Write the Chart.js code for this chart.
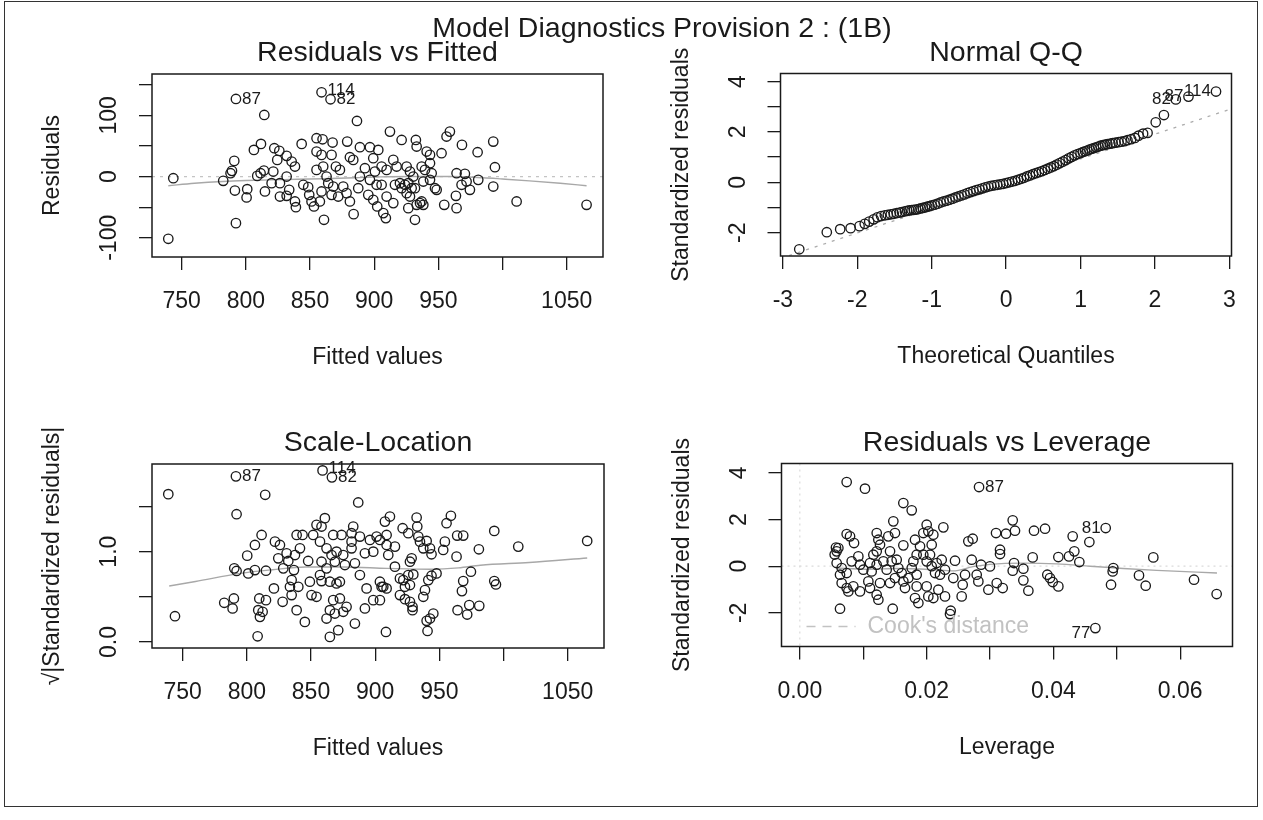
<!DOCTYPE html>
<html>
<head>
<meta charset="utf-8">
<title>Model Diagnostics Provision 2 : (1B)</title>
<script src="https://cdn.jsdelivr.net/npm/chart.js@4.4.1/dist/chart.umd.min.js"></script>
<style>
  body { margin: 0; background: #fff; }
  #wrap { position: relative; width: 1263px; height: 820px; overflow: hidden; }
  #wrap canvas { position: absolute; left: 0; top: 0; }
  #frame { position: absolute; left: 4px; top: 1px; width: 1252px; height: 804px; border: 1.5px solid #333; }
</style>
</head>
<body>
<div id="wrap">
  <div id="frame"></div>
  <canvas id="c1" width="1263" height="820"></canvas>
  <canvas id="c2" width="1263" height="820"></canvas>
  <canvas id="c3" width="1263" height="820"></canvas>
  <canvas id="c4" width="1263" height="820"></canvas>
</div>
<script>
const W = 1263, H = 820, TICK = 13;
const INK = '#1a1a1a';
const FONT = '"Liberation Sans", Arial, sans-serif';

const mainTitle = 'Model Diagnostics Provision 2 : (1B)';

// Residuals vs Fitted: [fitted, residual]
const p1Points = [
  [739.6,-101.6],[743.5,-2.7],[792.3,126.7],[814.4,100.6],[859.0,137.6],[866.0,126.2],[886.6,90.8],[792.3,-76.1],[860.9,-70.6],[884.0,-61.4],
  [782.4,-7.0],[791.0,25.6],[788.1,5.5],[789.2,9.3],[791.5,-22.8],[800.6,-34.2],[801.1,-20.6],[806.3,43.5],[811.8,53.3],[808.9,1.1],
  [811.5,5.5],[814.1,9.8],[814.9,-24.4],[822.2,46.3],[826.1,41.9],[824.5,27.2],[831.8,33.8],[835.7,24.5],[838.3,16.4],[843.5,53.3],
  [821.4,8.2],[820.1,-10.8],[826.6,-10.8],[831.8,0.0],[826.6,-32.6],[831.8,-31.5],[833.8,-21.7],[838.3,-40.7],[839.0,-50.0],[844.8,-13.5],
  [848.6,-17.3],[849.4,-29.9],[851.2,-40.7],[853.1,-48.9],[855.1,62.6],[859.8,60.9],[867.6,55.5],[855.1,40.8],[859.0,35.4],[866.8,35.4],
  [855.1,10.9],[860.3,16.4],[862.9,0.0],[864.2,-10.8],[868.1,-16.3],[866.8,-29.9],[857.7,-40.7],[870.2,16.4],[873.3,10.9],[875.9,-16.3],
  [878.5,-27.1],[881.1,-40.7],[859.0,-24.4],[872.0,-32.6],[879.0,57.1],[881.1,31.6],[883.7,27.2],[888.9,47.9],[892.8,13.6],[896.7,47.9],
  [899.3,30.0],[903.2,43.5],[900.6,8.2],[901.9,-13.5],[905.8,-13.5],[887.6,-19.0],[895.4,-29.9],[899.3,-38.0],[902.4,-48.9],[907.1,-59.7],
  [909.1,-67.9],[888.9,0.0],[896.7,-5.4],
  [912.3,73.4],[921.4,59.8],[932.5,59.8],[933.1,49.0],[940.9,40.8],[943.5,35.4],[952.5,38.1],[956.4,65.3],[959.0,73.4],[968.4,51.7],
  [980.6,39.7],[992.8,57.1],[994.1,15.3],[992.8,-16.3],[964.2,5.5],[970.7,4.4],[972.0,-8.1],[968.1,-13.5],[974.6,-21.7],[981.1,-5.4],
  [963.7,-31.5],[954.6,-46.2],[964.2,-51.6],[1011.0,-40.7],[1065.5,-46.2],[905.8,16.4],[909.7,10.9],[914.9,27.2],[917.5,16.4],[916.2,-13.5],
  [914.9,-43.4],[925.3,16.4],[927.9,8.2],[930.5,0.0],[937.0,16.4],[939.6,10.9],[943.5,21.8],[944.8,5.5],[920.1,-10.8],[921.4,-19.0],
  [924.0,-13.5],[926.6,-10.8],[929.2,-19.0],[925.3,-27.1],[927.9,-32.6],[931.8,-19.0],[938.3,-8.1],[943.5,-5.4],[947.4,-19.0],[948.7,-21.7],
  [935.7,-43.4],[937.0,-40.7],[933.1,-46.2],[926.6,-51.6],[931.8,-70.6],[938.3,-46.2],[909.7,-32.6]
];
const p1Smooth = [[739.6,-15],[760,-11],[782,-8],[800,-6.5],[830,-5],[860,-3.5],[885,-2],[905,-0.5],[930,0],[960,0],[985,-2],[1000,-4],[1021,-7],[1045,-11],[1065.5,-15]];
const p1Ids = [['87',792.3,126.7],['114',859.0,137.6],['82',866.0,126.2]];
const p1XTicks = [750,800,850,900,950,1000,1050];
const p1XLabels = ['750','800','850','900','950','','1050'];
const p1YTicks = [-100,-50,0,50,100,150];
const p1YLabels = ['-100','','0','','100',''];

// Normal Q-Q: [theoretical quantile, standardized residual]
const p2Points = [
  [-2.78,-2.66],[-2.41,-1.98],[-2.23,-1.86],[-2.09,-1.82],[-1.97,-1.74],[-1.90,-1.65],[-1.84,-1.56],[-1.78,-1.47],[-1.73,-1.39],[-1.68,-1.34],
  [-1.63,-1.31],[-1.59,-1.29],[-1.55,-1.27],[-1.51,-1.25],[-1.47,-1.22],[-1.43,-1.20],[-1.40,-1.18],[-1.36,-1.15],[-1.33,-1.13],[-1.30,-1.11],
  [-1.27,-1.10],[-1.24,-1.09],[-1.21,-1.08],[-1.18,-1.06],[-1.15,-1.04],[-1.12,-1.02],[-1.09,-1.00],[-1.06,-0.97],[-1.03,-0.95],[-1.00,-0.92],
  [-0.96,-0.89],[-0.92,-0.85],[-0.88,-0.80],[-0.84,-0.76],[-0.80,-0.73],[-0.76,-0.69],[-0.72,-0.65],[-0.68,-0.60],[-0.64,-0.56],[-0.60,-0.52],
  [-0.56,-0.48],[-0.52,-0.43],[-0.48,-0.39],[-0.44,-0.35],[-0.40,-0.31],[-0.36,-0.28],[-0.32,-0.24],[-0.28,-0.20],[-0.24,-0.17],[-0.20,-0.14],
  [-0.16,-0.12],[-0.12,-0.10],[-0.08,-0.08],[-0.04,-0.06],[0.00,-0.03],[0.04,0.00],[0.08,0.03],[0.12,0.06],[0.16,0.10],[0.20,0.14],
  [0.24,0.18],[0.28,0.23],[0.32,0.27],[0.36,0.32],[0.40,0.36],[0.44,0.40],[0.48,0.44],[0.52,0.49],[0.56,0.54],[0.60,0.59],
  [0.64,0.64],[0.68,0.70],[0.72,0.76],[0.76,0.82],[0.80,0.88],[0.84,0.95],[0.88,1.01],[0.92,1.07],[0.96,1.12],[1.00,1.16],
  [1.03,1.20],[1.06,1.23],[1.09,1.26],[1.12,1.30],[1.15,1.33],[1.18,1.36],[1.21,1.39],[1.24,1.42],[1.27,1.45],[1.30,1.47],
  [1.33,1.49],[1.36,1.51],[1.40,1.53],[1.43,1.55],[1.47,1.57],[1.51,1.59],[1.55,1.61],[1.59,1.63],[1.63,1.67],[1.68,1.71],
  [1.73,1.76],[1.78,1.85],[1.84,1.93],[1.90,1.96],[2.01,2.38],[2.12,2.67],[2.28,3.29],[2.45,3.40],[2.82,3.60]
];
const p2QQLine = { a: -0.05, b: 0.98 };
const p2Ids = [['82',2.28,3.29],['87',2.45,3.40],['114',2.82,3.60]];
const p2XTicks = [-3,-2,-1,0,1,2,3];
const p2XLabels = ['-3','-2','-1','0','1','2','3'];
const p2YTicks = [-2,-1,0,1,2,3,4];
const p2YLabels = ['-2','','0','','2','','4'];

// Scale-Location: [fitted, sqrt(|standardized residual|)]
const p3Points = [
  [738.8,1.637],[744.0,0.285],[791.5,1.834],[814.3,1.630],[859.0,1.900],[866.3,1.823],[886.8,1.545],[792.0,1.415],[811.5,1.185],[806.3,1.074],
  [800.3,0.956],[790.2,0.815],[792.0,0.786],[801.1,0.759],[806.3,0.796],[814.9,0.789],[821.1,0.593],[814.9,0.463],[809.7,0.482],[808.9,0.352],
  [812.3,0.334],[810.2,0.278],[808.4,0.063],[782.4,0.434],[789.9,0.482],[788.9,0.371],[821.9,1.111],[825.8,1.074],[824.5,0.926],[831.0,0.982],
  [832.3,0.897],[828.4,0.815],[838.8,1.185],[843.4,1.185],[841.4,1.037],[837.5,0.963],[836.7,0.796],[834.9,0.685],[833.6,0.611],[840.1,0.611],
  [827.9,0.445],[834.9,0.519],[838.8,0.352],[845.2,0.222],[847.8,0.897],[851.7,1.185],[854.3,1.297],[858.2,1.278],[860.8,1.371],[857.0,1.111],
  [862.1,1.037],[866.0,0.963],[858.2,0.889],[862.1,0.815],[857.0,0.741],[849.1,0.667],[850.4,0.519],[854.3,0.500],[858.2,0.674],[864.7,0.667],
  [869.9,0.648],[872.5,0.667],[867.3,1.185],[873.8,1.185],[869.9,1.000],[875.1,0.963],[868.6,0.889],[876.4,0.852],[867.3,0.463],[872.5,0.482],
  [877.7,0.389],[864.7,0.352],[862.1,0.259],[868.6,0.315],[875.1,0.334],[884.2,0.204],[864.7,0.056],[871.2,0.130],[882.9,1.278],[881.6,1.204],
  [888.1,1.167],[881.6,1.111],[881.6,1.037],[884.2,0.871],[888.1,0.741],[892.0,0.982],[895.9,1.130],[898.5,1.000],[901.1,1.167],[903.7,1.130],
  [908.9,1.185],[893.3,0.593],[898.5,0.463],[903.7,0.667],[905.0,0.611],[903.7,0.463],[908.4,0.111],[892.0,0.371],
  [911.5,1.389],[907.6,1.333],[908.9,1.074],[915.4,1.056],[910.2,0.963],[921.4,1.260],[925.8,1.204],[932.3,1.378],[932.8,1.278],[933.6,1.167],
  [934.9,1.111],[940.1,1.119],[942.7,1.037],[943.9,0.971],[937.5,1.037],[955.6,1.315],[959.0,1.397],[954.3,1.111],[953.0,1.019],[963.9,1.178],
  [968.6,1.178],[963.4,0.945],[980.8,1.026],[992.8,1.230],[1011.5,1.056],[1065.2,1.119],[974.6,0.778],[968.6,0.674],[967.6,0.563],[992.8,0.674],
  [994.1,0.637],[964.2,0.352],[971.7,0.304],[973.3,0.408],[981.1,0.400],[915.4,0.834],[927.1,0.889],[928.4,0.926],[919.3,0.704],[921.9,0.685],
  [925.8,0.741],[929.7,0.748],[927.1,0.630],[923.2,0.611],[906.3,0.611],[908.9,0.593],[919.3,0.519],[923.2,0.474],[927.1,0.445],[929.1,0.389],
  [929.1,0.352],[937.5,0.500],[938.8,0.574],[941.4,0.685],[943.9,0.734],[947.8,0.759],[945.3,0.315],[942.7,0.259],[940.1,0.234],[940.8,0.122]
];
const p3Smooth = [[739.5,0.62],[760,0.67],[795,0.76],[820,0.80],[846,0.83],[875,0.83],[909,0.815],[943,0.805],[965,0.82],[982,0.85],[1020,0.88],[1065.2,0.93]];
const p3Ids = [['87',791.5,1.834],['114',859.0,1.900],['82',866.3,1.823]];
const p3XTicks = p1XTicks;
const p3XLabels = p1XLabels;
const p3YTicks = [0,0.5,1,1.5];
const p3YLabels = ['0.0','','1.0',''];

// Residuals vs Leverage: [leverage, standardized residual]
const p4Points = [
  [0.00739,3.607],[0.01028,3.322],[0.02827,3.393],[0.01633,2.707],[0.01765,2.393],[0.00634,-1.822],[0.01465,-1.822],[0.02380,-1.908],[0.02369,-2.051],[0.01475,1.921],
  [0.01501,1.421],[0.02264,1.664],[0.02001,1.779],[0.02027,1.493],[0.02106,1.350],[0.01948,1.421],[0.01817,1.136],[0.02080,0.921],[0.01896,0.850],[0.00739,1.378],
  [0.00792,1.278],[0.00855,0.993],[0.00608,0.779],[0.00581,0.636],[0.01213,1.421],[0.01239,1.136],[0.01265,0.921],[0.01213,0.636],[0.01396,1.278],[0.01633,0.893],
  [0.01160,0.493],[0.00581,0.136],[0.00660,-0.079],[0.00634,-0.365],[0.00739,-0.293],[0.00818,0.207],[0.00923,0.421],[0.00949,0.064],[0.01002,-0.150],[0.01107,0.136],
  [0.01133,-0.222],[0.01212,0.064],[0.01318,0.207],[0.01370,-0.150],[0.01449,0.207],[0.01528,0.279],[0.01423,0.636],[0.01554,-0.079],[0.00660,-0.722],[0.00739,-0.936],
  [0.00765,-1.079],[0.00844,-0.865],[0.00949,-1.079],[0.01081,-0.651],[0.01107,-0.936],[0.01212,-1.222],[0.01239,-1.436],[0.01265,-0.722],[0.01423,-0.722],[0.01501,-0.508],
  [0.01607,-0.293],[0.01633,-0.651],[0.01659,-0.936],[0.01765,-0.079],[0.01791,0.207],[0.01843,0.493],[0.01948,0.493],[0.02001,0.207],[0.02054,0.493],[0.02080,0.000],
  [0.02159,0.136],[0.02238,0.279],[0.02133,-0.293],[0.02211,-0.365],[0.02290,-0.150],[0.01843,-0.365],[0.01712,-0.508],[0.01843,-0.865],[0.01817,-1.365],[0.01870,-1.579],
  [0.02001,-0.865],[0.02027,-1.293],[0.02106,-1.365],[0.02185,-1.008],[0.02290,-1.293],[0.02421,-0.508],[0.02448,0.236],[0.02569,-0.793],[0.02553,-1.293],[0.02606,-0.365],
  [0.02658,1.064],[0.02727,1.179],[0.02711,0.279],[0.02790,-0.365],[0.02816,-0.651],[0.02974,-1.008],[0.03106,-0.722],[0.03200,-0.936],[0.02859,0.064],[0.02999,-0.008],
  [0.03095,1.421],[0.03252,1.393],[0.03158,0.707],[0.03158,0.521],[0.00570,0.800],[0.00550,0.500],
  [0.03358,1.964],[0.03394,1.521],[0.03379,0.135],[0.03358,-0.193],[0.03526,-0.107],[0.03526,-0.607],[0.03605,-1.050],[0.03673,0.378],[0.03694,1.521],[0.03868,1.607],
  [0.03904,-0.365],[0.03946,-0.508],[0.03989,-0.679],[0.04078,-0.865],[0.04078,0.393],[0.04246,0.421],[0.04304,1.279],[0.04330,0.636],[0.04409,0.179],[0.04567,1.036],
  [0.04825,1.636],[0.04945,-0.079],[0.04935,-0.222],[0.04909,-0.793],[0.04662,-2.651],[0.05350,-0.393],[0.05456,-0.836],[0.05576,0.378],[0.06218,-0.579],[0.06575,-1.193]
];
const p4Smooth = [[0.0058,-0.08],[0.0105,-0.13],[0.0153,-0.10],[0.0205,-0.14],[0.0242,-0.20],[0.0273,-0.02],[0.030,0.08],[0.0353,0.13],[0.0405,0.10],[0.0458,0.0],[0.051,-0.10],[0.0563,-0.18],[0.0658,-0.29]];
const p4Ids = [['87',0.02827,3.393],['81',0.04825,1.636],['77',0.04662,-2.651]];
const p4XTicks = [0,0.01,0.02,0.03,0.04,0.05,0.06];
const p4XLabels = ['0.00','','0.02','','0.04','','0.06'];
const p4YTicks = [-2,0,2,4];
const p4YLabels = ['-2','0','2','4'];

function axis(range, ticks, dir) {
  return {
    type: 'linear',
    min: range[0],
    max: range[1],
    bounds: 'data',
    afterBuildTicks: s => { s.ticks = ticks.map(v => ({ value: v })); },
    afterFit: s => { if (dir === 'x') s.height = TICK; else s.width = TICK; },
    ticks: { display: false },
    grid: { drawOnChartArea: false, drawTicks: true, tickLength: TICK, color: INK, lineWidth: 1.3 },
    border: { display: false }
  };
}

function rotText(ctx, txt, x, y) {
  ctx.save();
  ctx.translate(x, y);
  ctx.rotate(-Math.PI / 2);
  ctx.fillText(txt, 0, 0);
  ctx.restore();
}

function rpanel(p) {
  return {
    id: 'rpanel',
    beforeDatasetsDraw(chart) {
      const { ctx, chartArea: a } = chart;
      const sx = chart.scales.x, sy = chart.scales.y;
      ctx.save();
      ctx.beginPath();
      ctx.rect(a.left, a.top, a.right - a.left, a.bottom - a.top);
      ctx.clip();
      (p.refs || []).forEach(r => {
        ctx.strokeStyle = r.color;
        ctx.lineWidth = r.width;
        ctx.setLineDash(r.dash);
        ctx.beginPath();
        if (r.h !== undefined) {
          const py = sy.getPixelForValue(r.h);
          ctx.moveTo(a.left, py); ctx.lineTo(a.right, py);
        } else if (r.v !== undefined) {
          const px = sx.getPixelForValue(r.v);
          ctx.moveTo(px, a.top); ctx.lineTo(px, a.bottom);
        } else {
          ctx.moveTo(sx.getPixelForValue(sx.min), sy.getPixelForValue(r.a + r.b * sx.min));
          ctx.lineTo(sx.getPixelForValue(sx.max), sy.getPixelForValue(r.a + r.b * sx.max));
        }
        ctx.stroke();
      });
      ctx.restore();
    },
    afterDraw(chart) {
      const { ctx, chartArea: a } = chart;
      const sx = chart.scales.x, sy = chart.scales.y;
      ctx.save();
      ctx.setLineDash([]);
      ctx.strokeStyle = INK;
      ctx.lineWidth = 1.5;
      ctx.strokeRect(a.left, a.top, a.right - a.left, a.bottom - a.top);

      ctx.fillStyle = INK;
      ctx.font = '23px ' + FONT;
      ctx.textAlign = 'center';
      ctx.textBaseline = 'middle';
      p.xTicks.forEach((v, i) => {
        if (p.xLabels[i]) ctx.fillText(p.xLabels[i], sx.getPixelForValue(v), a.bottom + 45);
      });
      p.yTicks.forEach((v, i) => {
        if (p.yLabels[i]) rotText(ctx, p.yLabels[i], a.left - 42, sy.getPixelForValue(v));
      });
      ctx.fillText(p.xlab, (a.left + a.right) / 2, a.bottom + 101);
      rotText(ctx, p.ylab, a.left - 99, (a.top + a.bottom) / 2);

      ctx.font = '28.5px ' + FONT;
      ctx.textBaseline = 'alphabetic';
      ctx.fillText(p.title, (a.left + a.right) / 2, a.top - 13);

      ctx.font = '17px ' + FONT;
      ctx.textBaseline = 'middle';
      p.ids.forEach((d, i) => {
        const px = sx.getPixelForValue(d[1]), py = sy.getPixelForValue(d[2]);
        if (p.idSide[i] === 'l') { ctx.textAlign = 'right'; ctx.fillText(d[0], px - 5, py + (p.idDy[i] || 0)); }
        else { ctx.textAlign = 'left'; ctx.fillText(d[0], px + 6, py + (p.idDy[i] || 0)); }
      });

      if (p.legend) {
        const ly = a.bottom - 20;
        ctx.strokeStyle = '#c2c2c2';
        ctx.lineWidth = 1.3;
        ctx.setLineDash([9, 7]);
        ctx.beginPath();
        ctx.moveTo(a.left + 25, ly); ctx.lineTo(a.left + 74, ly);
        ctx.stroke();
        ctx.setLineDash([]);
        ctx.fillStyle = '#c2c2c2';
        ctx.font = '23px ' + FONT;
        ctx.textAlign = 'left';
        ctx.fillText(p.legend, a.left + 86, ly);
      }

      if (p.main) {
        ctx.fillStyle = INK;
        ctx.font = '28.5px ' + FONT;
        ctx.textAlign = 'center';
        ctx.textBaseline = 'alphabetic';
        ctx.fillText(p.main, 662, 37);
      }
      ctx.restore();
    }
  };
}

function makePanel(id, p) {
  const datasets = [{
    type: 'scatter',
    data: p.points.map(d => ({ x: d[0], y: d[1] })),
    pointStyle: 'circle',
    pointRadius: 4.7,
    pointHoverRadius: 4.7,
    pointBorderWidth: 1.35,
    borderColor: INK,
    backgroundColor: 'rgba(0,0,0,0)',
    order: 1
  }];
  if (p.smooth) {
    datasets.push({
      type: 'line',
      data: p.smooth.map(d => ({ x: d[0], y: d[1] })),
      borderColor: '#a8a8a8',
      borderWidth: 1.4,
      pointRadius: 0,
      cubicInterpolationMode: 'monotone',
      fill: false,
      order: 2
    });
  }
  new Chart(document.getElementById(id), {
    type: 'scatter',
    data: { datasets },
    options: {
      responsive: false,
      animation: false,
      devicePixelRatio: 1,
      events: [],
      layout: { padding: { left: p.box[0] - TICK, top: p.box[1], right: W - p.box[2], bottom: H - p.box[3] - TICK } },
      plugins: { legend: { display: false }, tooltip: { enabled: false } },
      scales: {
        x: axis(p.xr, p.xTicks, 'x'),
        y: axis(p.yr, p.yTicks, 'y')
      }
    },
    plugins: [rpanel(p)]
  });
}

makePanel('c1', {
  box: [152, 74, 603, 257], xr: [726.9, 1078.3], yr: [-131.4, 167.5],
  points: p1Points, smooth: p1Smooth,
  xTicks: p1XTicks, xLabels: p1XLabels, yTicks: p1YTicks, yLabels: p1YLabels,
  title: 'Residuals vs Fitted', xlab: 'Fitted values', ylab: 'Residuals',
  ids: p1Ids, idSide: ['r', 'r', 'r'], idDy: [0, -2, 0],
  refs: [{ h: 0, color: '#c4c4c4', width: 1.2, dash: [3, 5] }],
  main: mainTitle
});

makePanel('c2', {
  box: [780.5, 73.5, 1231.5, 256], xr: [-3.032, 3.028], yr: [-2.925, 4.317],
  points: p2Points,
  xTicks: p2XTicks, xLabels: p2XLabels, yTicks: p2YTicks, yLabels: p2YLabels,
  title: 'Normal Q-Q', xlab: 'Theoretical Quantiles', ylab: 'Standardized residuals',
  ids: p2Ids, idSide: ['l', 'l', 'l'], idDy: [0, 0, 0],
  refs: [{ a: p2QQLine.a, b: p2QQLine.b, color: '#ababab', width: 1.3, dash: [3, 6] }]
});

makePanel('c3', {
  box: [152, 464, 604, 648], xr: [726.1, 1078.3], yr: [-0.067, 1.971],
  points: p3Points, smooth: p3Smooth,
  xTicks: p3XTicks, xLabels: p3XLabels, yTicks: p3YTicks, yLabels: p3YLabels,
  title: 'Scale-Location', xlab: 'Fitted values', ylab: '√|Standardized residuals|',
  ids: p3Ids, idSide: ['r', 'r', 'r'], idDy: [0, -2, 0]
});

makePanel('c4', {
  box: [781.5, 463.5, 1232.5, 646.5], xr: [-0.00289, 0.06825], yr: [-3.44, 4.40],
  points: p4Points, smooth: p4Smooth,
  xTicks: p4XTicks, xLabels: p4XLabels, yTicks: p4YTicks, yLabels: p4YLabels,
  title: 'Residuals vs Leverage', xlab: 'Leverage', ylab: 'Standardized residuals',
  ids: p4Ids, idSide: ['r', 'l', 'l'], idDy: [0, 0, 5],
  refs: [
    { h: 0, color: '#dadada', width: 1.2, dash: [2, 4] },
    { v: 0, color: '#dadada', width: 1.2, dash: [2, 4] }
  ],
  legend: "Cook's distance"
});
</script>
</body>
</html>
